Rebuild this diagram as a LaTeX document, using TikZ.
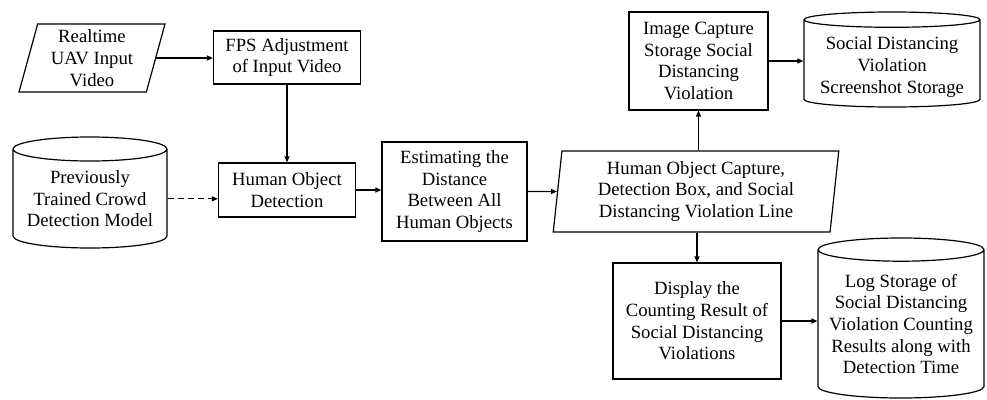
\documentclass[tikz,border=0pt]{standalone}
\usepackage{fontspec}
\setmainfont{Liberation Serif}
\usetikzlibrary{arrows.meta,shapes.geometric}

% text block of a storage cylinder, pushed down below the lid
\newcommand{\lidtext}[3]{\begin{minipage}{#1}\centering\vspace*{#2}#3\end{minipage}}

\begin{document}
\begin{tikzpicture}[x=1pt, y=-1pt,
  font=\fontsize{18.7}{21.7}\selectfont,
  every node/.style={line width=1.2pt, align=center, inner sep=0pt},
  proc/.style={draw, rectangle},
  io/.style={draw, trapezium, trapezium stretches=true},
  db/.style={draw, cylinder, shape border rotate=90, anchor=shape center},
  flow/.style={line width=1.2pt, -{Triangle[length=6pt, width=5pt]}},
]
\useasboundingbox (0,0) rectangle (987,399);

% ── Input side ────────────────────────────────────────────────
\node[io, trapezium left angle=76, trapezium right angle=104,
      minimum width=146, minimum height=68] (video) at (92,58)
  {Realtime\\UAV Input\\Video};
\node[proc, minimum width=147, minimum height=53] (fps) at (287,57.5)
  {FPS Adjustment\\of Input Video};

\node[db, aspect=0.16, minimum width=154, minimum height=111] (model) at (90,192.5)
  {\lidtext{150pt}{0pt}{Previously\\Trained Crowd\\Detection Model}};
\node[proc, minimum width=137, minimum height=54] (detect) at (287,190)
  {Human Object\\Detection};

% ── Distance and capture ──────────────────────────────────────
\node[proc, minimum width=145, minimum height=99] (dist) at (454.5,191.5)
  {Estimating the\\Distance\\Between All\\Human Objects};
\node[io, trapezium left angle=84, trapezium right angle=96,
      minimum width=286, minimum height=81] (capture) at (696,191.5)
  {Human Object Capture,\\Detection Box, and Social\\Distancing Violation Line};

% ── Outputs ───────────────────────────────────────────────────
\node[proc, minimum width=139, minimum height=98] (shot) at (698.5,61)
  {Image Capture\\Storage Social\\Distancing\\Violation};
\node[db, aspect=0.09, minimum width=176, minimum height=95] (store) at (892,59.5)
  {\lidtext{170pt}{7pt}{Social Distancing\\Violation\\Screenshot Storage}};

\node[proc, minimum width=168, minimum height=116] (count) at (697,321)
  {Display the\\Counting Result of\\Social Distancing\\Violations};
\node[db, aspect=0.145, minimum width=166, minimum height=160] (log) at (901,318)
  {\lidtext{160pt}{0pt}{Log Storage of\\Social Distancing\\Violation Counting\\Results along with\\Detection Time}};

% ── Connectors ────────────────────────────────────────────────
\draw[flow] (video.east) -- (video.east -| fps.west);
\draw[flow] (fps.south) -- (detect.north);
\draw[flow, dash pattern=on 6pt off 4pt] (model.east) -- (model.east -| detect.west);
\draw[flow] (detect.east) -- (detect.east -| dist.west);
\draw[flow] (dist.east) -- (capture.west);
\draw[flow] (capture.north -| shot.south) -- (shot.south);
\draw[flow] (shot.east) -- (shot.east -| store.west);
\draw[flow] (capture.south -| count.north) -- (count.north);
\draw[flow] (count.east) -- (count.east -| log.west);

\end{tikzpicture}
\end{document}
